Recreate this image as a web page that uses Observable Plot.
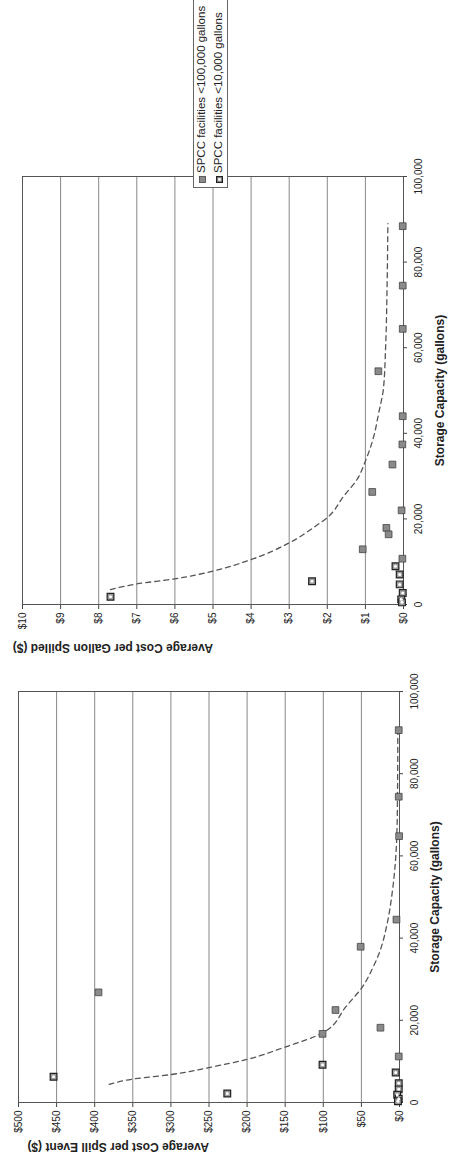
<!DOCTYPE html>
<html>
<head>
<meta charset="utf-8">
<script src="https://cdn.jsdelivr.net/npm/d3@7"></script>
<script src="https://cdn.jsdelivr.net/npm/@observablehq/plot@0.6"></script>
<style>
html, body { margin: 0; padding: 0; background: #fff; width: 451px; height: 1162px; overflow: hidden; }
#page { position: absolute; left: 0; top: 0; width: 1162px; height: 451px;
  transform-origin: 0 0; transform: translate(0, 1162px) rotate(-90deg);
  font-family: "Liberation Sans", Arial, sans-serif; color: #222; }
.chart { position: absolute; top: 0; }
#legend { position: absolute; left: 974px; top: 193px; width: 200px; height: 35px;
  background: #fff; border: 1px solid #666; box-sizing: border-box; font-size: 11.5px; z-index: 5; }
#legend .row { position: absolute; left: 4px; height: 15px; line-height: 15px; white-space: nowrap; }
#legend svg { vertical-align: -1px; margin-right: 3px; }
</style>
</head>
<body>
<div id="page">
  <div id="c1" class="chart" style="left:0px"></div>
  <div id="c2" class="chart" style="left:500px"></div>
  <div id="legend"></div>
</div>
<script>
// ---- shared axis ticks ----
const gallonTicks = [0, 20000, 40000, 60000, 80000, 100000];
const eventTicks = [0, 50, 100, 150, 200, 250, 300, 350, 400, 450, 500];
const gallonCostTicks = [0, 1, 2, 3, 4, 5, 6, 7, 8, 9, 10];

const seriesNames = ["SPCC facilities <100,000 gallons", "SPCC facilities <10,000 gallons"];
const xTitle = "Storage Capacity (gallons)";
const eventTitle = "Average Cost per Spill Event ($)";
const gallonTitle = "Average Cost per Gallon Spilled ($)";

// ---- Chart 1: average cost per spill event ----
const ev100Gallons = [90600, 74400, 64800, 44500, 37900, 26800, 22500, 18200, 16700, 11200];
const ev100Cost    = [1, 1, 0.5, 4, 51, 395, 84, 25, 101, 1];
const ev10Gallons  = [6250, 2200, 9200, 7300, 4700, 3200, 1900, 900, 300];
const ev10Cost     = [454, 226, 101, 5, 1, 1, 3, 1, 2];
const evTrendGallons = [4400, 5700, 6800, 8500, 10500, 13500, 17000, 23400, 28300, 32400, 37200, 43700, 51000, 59000, 65000, 75000, 90000];
const evTrendCost    = [381, 350, 300, 250, 200, 150, 100, 70, 48, 36, 25, 16, 9.6, 5.2, 3.5, 2.6, 2.2];

// ---- Chart 2: average cost per gallon spilled ----
const gal100Gallons = [88400, 74500, 64400, 54500, 44000, 37400, 32700, 26300, 22000, 17900, 16400, 12900, 10700];
const gal100Cost    = [0.02, 0.02, 0.02, 0.66, 0.02, 0.03, 0.29, 0.82, 0.05, 0.45, 0.39, 1.07, 0.03];
const gal10Gallons  = [1800, 5450, 8950, 7000, 4700, 2700, 1200, 500];
const gal10Cost     = [7.69, 2.40, 0.21, 0.10, 0.10, 0.02, 0.06, 0.04];
const galTrendGallons = [3500, 4800, 6000, 7800, 10500, 14400, 18300, 20300, 25300, 29200, 33500, 39300, 44800, 50200, 60000, 75000, 89000];
const galTrendCost    = [7.69, 7, 6, 5, 4, 3, 2.31, 2, 1.57, 1.22, 1.0, 0.78, 0.65, 0.53, 0.47, 0.43, 0.41];

const zip = (g, c) => g.map((v, i) => ({gal: v, cost: c[i]}));
const FONT = "Liberation Sans, Arial, sans-serif";

function makeChart(o) {
  const large = zip(o.largeG, o.largeC);
  const small = zip(o.smallG, o.smallC);
  const trend = zip(o.trendG, o.trendC);
  return Plot.plot({
    width: o.width, height: 451,
    marginLeft: o.ml, marginRight: o.mr, marginTop: o.mt, marginBottom: o.mb,
    style: {fontFamily: FONT, fontSize: "10px", color: "#222", background: "transparent", overflow: "visible"},
    x: {domain: [0, 100000]},
    y: {domain: [0, o.yTicks[o.yTicks.length - 1]]},
    marks: [
      Plot.gridY(o.yTicks, {stroke: "#7a7a7a", strokeOpacity: 1, strokeWidth: 0.9}),
      Plot.frame({stroke: "#555", strokeWidth: 1}),
      Plot.axisX(gallonTicks, {tickFormat: d3.format(","), tickSize: 4, tickPadding: 7, label: null, stroke: "#444", fill: "#222"}),
      Plot.axisY(o.yTicks, {tickFormat: d => "$" + d, tickSize: 4, tickPadding: 4, label: null, stroke: "#444", fill: "#222"}),
      Plot.line(trend, {x: "gal", y: "cost", curve: "monotone-x", stroke: "#555", strokeWidth: 1.3, strokeDasharray: "5,4"}),
      Plot.dot(large, {x: "gal", y: "cost", symbol: "square", r: 3.8, fill: "#8a8a8a", stroke: "#444", strokeWidth: 0.8}),
      Plot.dot(small, {x: "gal", y: "cost", symbol: "square", r: 3.8, fill: "#9a9a9a", stroke: "#222", strokeWidth: 1.2}),
      Plot.dot(small, {x: "gal", y: "cost", r: 1.5, fill: "#fff", stroke: "none"}),
      Plot.text([xTitle], {frameAnchor: "bottom", dy: o.xTitleDy, fontWeight: "bold", fontSize: 12, fill: "#222"}),
      Plot.text([o.yTitle], {frameAnchor: "left", dx: o.yTitleDx, rotate: -90, fontWeight: "bold", fontSize: 12, fill: "#222"})
    ]
  });
}

document.getElementById("c1").append(makeChart({
  width: 490, ml: 59, mr: 20, mt: 18, mb: 52,
  yTicks: eventTicks, yTitle: eventTitle, yTitleDx: -44, xTitleDy: 39,
  largeG: ev100Gallons, largeC: ev100Cost, smallG: ev10Gallons, smallC: ev10Cost,
  trendG: evTrendGallons, trendC: evTrendCost
}));

document.getElementById("c2").append(makeChart({
  width: 530, ml: 57, mr: 45, mt: 22, mb: 48,
  yTicks: gallonCostTicks, yTitle: gallonTitle, yTitleDx: -43, xTitleDy: 40,
  largeG: gal100Gallons, largeC: gal100Cost, smallG: gal10Gallons, smallC: gal10Cost,
  trendG: galTrendGallons, trendC: galTrendCost
}));

// legend
const legend = document.getElementById("legend");
const markers = [
  '<svg width="7" height="7"><rect x="0.5" y="0.5" width="6" height="6" fill="#8a8a8a" stroke="#444" stroke-width="0.8"/></svg>',
  '<svg width="7" height="7"><rect x="0.6" y="0.6" width="5.8" height="5.8" fill="#9a9a9a" stroke="#222" stroke-width="1.2"/><circle cx="3.5" cy="3.5" r="1.4" fill="#fff"/></svg>'
];
seriesNames.forEach((name, i) => {
  const row = document.createElement("div");
  row.className = "row";
  row.style.top = (i === 0 ? 0 : 17) + "px";
  row.innerHTML = markers[i] + name;
  legend.append(row);
});
</script>
</body>
</html>
